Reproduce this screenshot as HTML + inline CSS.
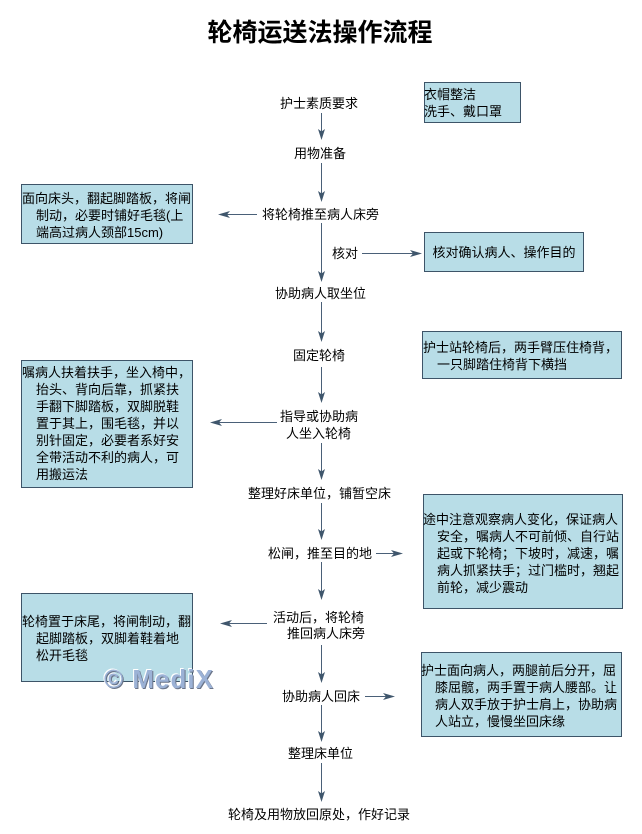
<!DOCTYPE html>
<html>
<head>
<meta charset="utf-8">
<style>
  html, body { margin:0; padding:0; background:#ffffff; }
  body { width:642px; height:834px; position:relative; overflow:hidden;
         font-family:"Liberation Sans","Noto Sans CJK SC",sans-serif; color:#000; }
  .t { position:absolute; font-size:13px; line-height:17px; white-space:nowrap; }
  .title { position:absolute; left:0; width:642px; top:19px; text-align:center;
           font-size:25px; line-height:28px; font-weight:bold; margin-left:-1px; }
  .bx { position:absolute; font-size:13px; line-height:17px; white-space:nowrap;
        padding-left:14px; text-indent:-14px; }
  .wm { position:absolute; left:104px; top:664px; font-family:"Liberation Sans",sans-serif;
        font-weight:bold; font-size:26px; line-height:30px; letter-spacing:1px;
        color:#9cb2d6; text-shadow:1px 1px 0 #6a7488, -1px -1px 0 #ffffff; white-space:nowrap; }
</style>
</head>
<body>
<svg width="642" height="834" style="position:absolute;left:0;top:0">
  <g fill="#b8dde7" stroke="#3d5468" stroke-width="1">
    <rect x="424.5" y="82.5" width="96" height="40"/>
    <rect x="21.5" y="184.5" width="171" height="59"/>
    <rect x="424.5" y="232.5" width="159" height="39"/>
    <rect x="422.5" y="331.5" width="199" height="47"/>
    <rect x="21.5" y="360.5" width="171" height="127"/>
    <rect x="423.5" y="494.5" width="199" height="114"/>
    <rect x="21.5" y="593.5" width="171" height="88"/>
    <rect x="421.5" y="652.5" width="200" height="84"/>
  </g>
  <g stroke="#4a6078" stroke-width="1">
    <line x1="321.5" y1="113" x2="321.5" y2="132"/>
    <line x1="321.5" y1="163" x2="321.5" y2="194"/>
    <line x1="321.5" y1="223" x2="321.5" y2="274"/>
    <line x1="321.5" y1="302" x2="321.5" y2="334"/>
    <line x1="321.5" y1="367" x2="321.5" y2="395"/>
    <line x1="321.5" y1="443" x2="321.5" y2="472"/>
    <line x1="321.5" y1="503" x2="321.5" y2="532"/>
    <line x1="321.5" y1="562" x2="321.5" y2="592"/>
    <line x1="321.5" y1="645" x2="321.5" y2="675"/>
    <line x1="321.5" y1="705" x2="321.5" y2="734"/>
    <line x1="321.5" y1="763" x2="321.5" y2="794"/>
    <line x1="257" y1="214.5" x2="226" y2="214.5"/>
    <line x1="362" y1="253.5" x2="414" y2="253.5"/>
    <line x1="277" y1="422.5" x2="218" y2="422.5"/>
    <line x1="376" y1="553.5" x2="395" y2="553.5"/>
    <line x1="267" y1="623.5" x2="228" y2="623.5"/>
    <line x1="365" y1="696.5" x2="387" y2="696.5"/>
  </g>
  <g fill="#3f566c">
    <polygon points="321.5,140 318,129 321.5,131.5 325,129"/>
    <polygon points="321.5,202 318,191 321.5,193.5 325,191"/>
    <polygon points="321.5,282 318,271 321.5,273.5 325,271"/>
    <polygon points="321.5,342 318,331 321.5,333.5 325,331"/>
    <polygon points="321.5,403 318,392 321.5,394.5 325,392"/>
    <polygon points="321.5,480 318,469 321.5,471.5 325,469"/>
    <polygon points="321.5,540 318,529 321.5,531.5 325,529"/>
    <polygon points="321.5,600 318,589 321.5,591.5 325,589"/>
    <polygon points="321.5,683 318,672 321.5,674.5 325,672"/>
    <polygon points="321.5,742 318,731 321.5,733.5 325,731"/>
    <polygon points="321.5,802 318,791 321.5,793.5 325,791"/>
    <polygon points="218,214.5 230,211 227,214.5 230,218"/>
    <polygon points="422,253.5 410,250 413,253.5 410,257"/>
    <polygon points="210,422.5 222,419 219,422.5 222,426"/>
    <polygon points="403,553.5 391,550 394,553.5 391,557"/>
    <polygon points="220,623.5 232,620 229,623.5 232,627"/>
    <polygon points="395,696.5 383,693 386,696.5 383,700"/>
  </g>
</svg>

<div class="title">轮椅运送法操作流程</div>

<div class="t" style="left:280px;top:95px">护士素质要求</div>
<div class="t" style="left:294px;top:145px">用物准备</div>
<div class="t" style="left:262px;top:206px">将轮椅推至病人床旁</div>
<div class="t" style="left:332px;top:245px">核对</div>
<div class="t" style="left:275px;top:285px">协助病人取坐位</div>
<div class="t" style="left:293px;top:347px">固定轮椅</div>
<div class="t" style="left:280px;top:408px">指导或协助病</div>
<div class="t" style="left:286px;top:425px">人坐入轮椅</div>
<div class="t" style="left:248px;top:485px">整理好床单位，铺暂空床</div>
<div class="t" style="left:268px;top:545px">松闸，推至目的地</div>
<div class="t" style="left:273px;top:609px">活动后，将轮椅</div>
<div class="t" style="left:287px;top:625px">推回病人床旁</div>
<div class="t" style="left:282px;top:688px">协助病人回床</div>
<div class="t" style="left:288px;top:745px">整理床单位</div>
<div class="t" style="left:228px;top:806px">轮椅及用物放回原处，作好记录</div>

<div class="t" style="left:424px;top:86px">衣帽整洁<br>洗手、戴口罩</div>
<div class="bx" style="left:22px;top:190px">面向床头，翻起脚踏板，将闸<br>制动，必要时铺好毛毯(上<br>端高过病人颈部15cm)</div>
<div class="t" style="left:424px;top:244px;width:160px;text-align:center">核对确认病人、操作目的</div>
<div class="bx" style="left:423px;top:339px">护士站轮椅后，两手臂压住椅背，<br>一只脚踏住椅背下横挡</div>
<div class="bx" style="left:22px;top:364px">嘱病人扶着扶手，坐入椅中，<br>抬头、背向后靠，抓紧扶<br>手翻下脚踏板，双脚脱鞋<br>置于其上，围毛毯，并以<br>别针固定，必要者系好安<br>全带活动不利的病人，可<br>用搬运法</div>
<div class="bx" style="left:423px;top:511px">途中注意观察病人变化，保证病人<br>安全，嘱病人不可前倾、自行站<br>起或下轮椅；下坡时，减速，嘱<br>病人抓紧扶手；过门槛时，翘起<br>前轮，减少震动</div>
<div class="bx" style="left:22px;top:613px">轮椅置于床尾，将闸制动，翻<br>起脚踏板，双脚着鞋着地<br>松开毛毯</div>
<div class="bx" style="left:421px;top:662px">护士面向病人，两腿前后分开，屈<br>膝屈髋，两手置于病人腰部。让<br>病人双手放于护士肩上，协助病<br>人站立，慢慢坐回床缘</div>

<div class="wm">© MediX</div>
</body>
</html>
